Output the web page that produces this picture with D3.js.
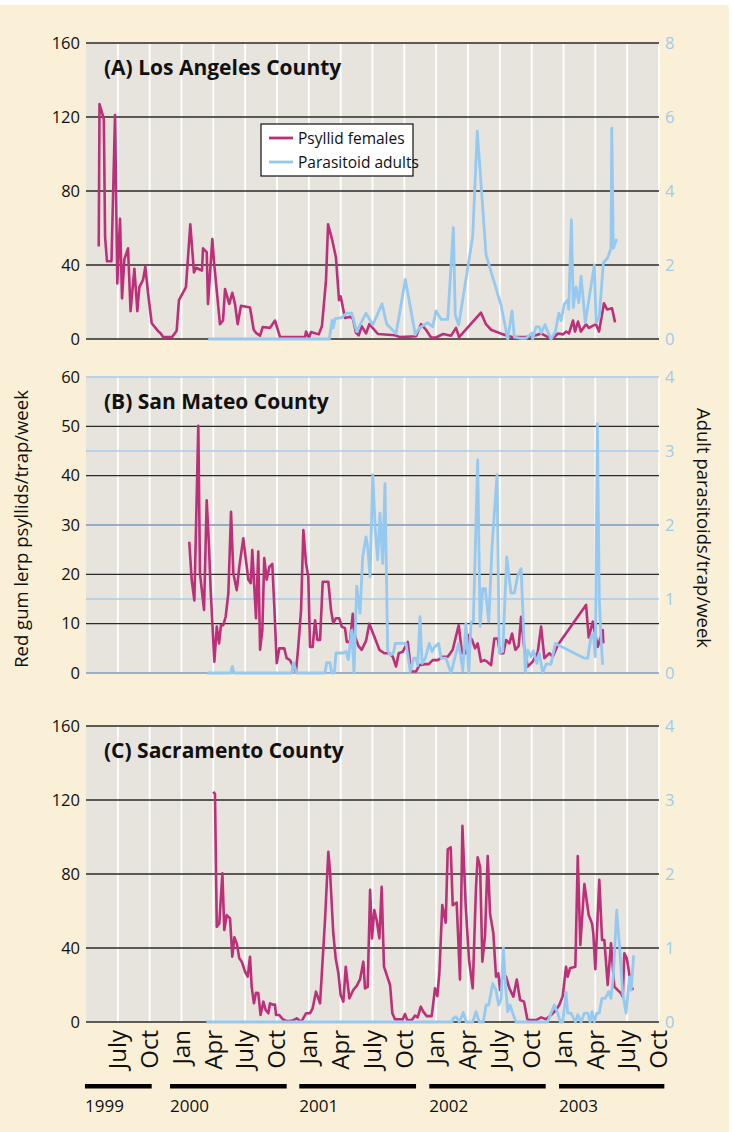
<!DOCTYPE html>
<html>
<head>
<meta charset="utf-8">
<title>Red gum lerp psyllid and parasitoid counts</title>
<script src="https://cdn.jsdelivr.net/npm/d3@7"></script>
<style>
    body { margin: 0; background: #ffffff; }
    svg text { font-family: "Open Sans", "Noto Sans", sans-serif; }
</style>
</head>
<body>
<div id="chart"></div>
<script>

// times are decimal years, values are trap counts

const laPsyllids = [
    [1999.35, 50], [1999.356, 127], [1999.39, 119], [1999.40, 55], [1999.415, 42], [1999.45, 42],
    [1999.478, 121], [1999.496, 30], [1999.517, 65], [1999.533, 22], [1999.551, 43], [1999.58, 49],
    [1999.60, 15], [1999.63, 38], [1999.653, 15], [1999.669, 28], [1999.698, 32], [1999.716, 39],
    [1999.737, 25], [1999.766, 8.5], [1999.813, 4.5], [1999.837, 3], [1999.857, 1], [1999.925, 1],
    [1999.962, 4.5], [1999.98, 21], [2000.035, 28], [2000.069, 62], [2000.098, 36], [2000.114, 38.5],
    [2000.161, 37], [2000.169, 49], [2000.198, 47], [2000.208, 19], [2000.242, 54], [2000.255, 42],
    [2000.302, 8], [2000.326, 10], [2000.342, 27], [2000.375, 19], [2000.399, 25], [2000.42, 19],
    [2000.441, 8], [2000.467, 18], [2000.538, 17], [2000.567, 5], [2000.59, 3], [2000.617, 1.8],
    [2000.638, 6.5], [2000.695, 6], [2000.734, 10], [2000.774, 1], [2000.876, 1], [2000.97, 1],
    [2000.978, 4], [2001.001, 0.5], [2001.017, 3.8], [2001.078, 2.5], [2001.103, 7], [2001.135, 32],
    [2001.151, 62], [2001.182, 54], [2001.213, 44], [2001.237, 21], [2001.25, 23], [2001.284, 11.4],
    [2001.323, 12], [2001.347, 11], [2001.37, 3.4], [2001.392, 2], [2001.415, 7], [2001.449, 3],
    [2001.475, 8], [2001.543, 2.7], [2001.677, 2], [2001.716, 1], [2001.842, 1.5], [2001.881, 8],
    [2001.92, 5], [2001.96, 0.8], [2001.999, 0.8], [2002.054, 2.7], [2002.117, 1.8], [2002.156, 6],
    [2002.18, 1], [2002.352, 14.2], [2002.391, 8], [2002.431, 5], [2002.525, 2.5], [2002.603, 1],
    [2002.706, 1], [2002.784, 2], [2002.823, 3], [2002.878, 1], [2002.918, 0.5], [2002.957, 3],
    [2002.996, 2.5], [2003.02, 4], [2003.043, 3], [2003.075, 10], [2003.09, 4], [2003.114, 9.4],
    [2003.137, 4], [2003.177, 8], [2003.2, 6], [2003.255, 8], [2003.279, 4], [2003.318, 19.3],
    [2003.342, 16], [2003.381, 16.6], [2003.405, 9]
];

const laParasitoids = [
    [2000.21, 0], [2001.161, 0], [2001.182, 0.5], [2001.192, 0.3], [2001.206, 0.55], [2001.258, 0.58],
    [2001.298, 0.7], [2001.337, 0.7], [2001.376, 0.2], [2001.449, 0.7], [2001.502, 0.38], [2001.575, 0.95],
    [2001.612, 0.4], [2001.685, 0.15], [2001.758, 1.61], [2001.836, 0.12], [2001.868, 0.3], [2001.934, 0.44],
    [2001.973, 0.33], [2001.999, 0.76], [2002.038, 0.53], [2002.091, 0.53], [2002.135, 3.01], [2002.15, 0.64],
    [2002.177, 0.38], [2002.287, 2.77], [2002.323, 5.62], [2002.392, 2.27], [2002.509, 0.92], [2002.562, 0],
    [2002.596, 0.76], [2002.614, 0.05], [2002.667, 0.02], [2002.706, 0.02], [2002.753, 0.16], [2002.758, 0],
    [2002.784, 0.33], [2002.81, 0.33], [2002.824, 0.16], [2002.855, 0.39], [2002.876, 0.2], [2002.902, 0],
    [2002.936, 0.2], [2002.963, 0.7], [2002.981, 0.5], [2003.007, 0.95], [2003.033, 1.05], [2003.041, 0.8],
    [2003.062, 3.22], [2003.077, 0.85], [2003.098, 1.41], [2003.12, 0.98], [2003.138, 1.7], [2003.171, 0.44],
    [2003.242, 2.0], [2003.256, 0.44], [2003.281, 0.6], [2003.313, 2.05], [2003.347, 2.2], [2003.373, 2.45],
    [2003.379, 5.7], [2003.391, 2.45], [2003.418, 2.7]
];

const smPsyllids = [
    [2000.061, 26.6], [2000.08, 18.9], [2000.101, 14.7], [2000.132, 50.1], [2000.145, 20.2], [2000.177, 12.8],
    [2000.198, 35], [2000.216, 25.6], [2000.229, 16.8], [2000.258, 2.3], [2000.277, 9.4], [2000.295, 6],
    [2000.31, 9.7], [2000.328, 9.7], [2000.347, 11.4], [2000.368, 16.2], [2000.389, 32.7], [2000.407, 20.2],
    [2000.434, 16.8], [2000.454, 21.5], [2000.485, 27.3], [2000.525, 18.9], [2000.544, 18.2], [2000.556, 24.9],
    [2000.585, 11.1], [2000.603, 24.6], [2000.617, 4.7], [2000.635, 8.7], [2000.65, 23.3], [2000.669, 18.9],
    [2000.69, 21.5], [2000.713, 22.1], [2000.729, 13.4], [2000.748, 2], [2000.768, 5], [2000.807, 5],
    [2000.826, 3], [2000.852, 2.6], [2000.878, 1.3], [2000.899, 0.3], [2000.917, 5.3], [2000.939, 12.8],
    [2000.957, 29], [2000.978, 22.2], [2000.996, 19.5], [2001.009, 5.3], [2001.03, 5.3], [2001.049, 10.7],
    [2001.067, 6.7], [2001.088, 6.7], [2001.109, 18.5], [2001.153, 18.5], [2001.174, 12.8], [2001.192, 10.1],
    [2001.213, 11.1], [2001.239, 11.1], [2001.258, 9.4], [2001.284, 9.1], [2001.298, 6.3], [2001.323, 6.3],
    [2001.345, 12], [2001.363, 7.4], [2001.389, 5.5], [2001.415, 4.7], [2001.449, 6.5], [2001.475, 10],
    [2001.514, 7.4], [2001.554, 4.7], [2001.593, 4], [2001.632, 4], [2001.659, 3.3], [2001.685, 1.3],
    [2001.706, 4], [2001.737, 4.3], [2001.777, 6.3], [2001.803, 0.3], [2001.842, 0.3], [2001.868, 1.6],
    [2001.915, 1.8], [2001.942, 1.8], [2001.973, 2.6], [2002.012, 2.6], [2002.052, 3.3], [2002.091, 3.3],
    [2002.13, 4.7], [2002.177, 9.7], [2002.203, 4], [2002.235, 4], [2002.256, 7.7], [2002.282, 6.7],
    [2002.305, 5], [2002.326, 6], [2002.352, 2.3], [2002.378, 2.6], [2002.4, 2.3], [2002.431, 1.6],
    [2002.457, 7], [2002.483, 7], [2002.502, 4], [2002.528, 4], [2002.549, 6.7], [2002.575, 6],
    [2002.596, 8], [2002.622, 4.7], [2002.648, 5.5], [2002.667, 11.4], [2002.692, 5], [2002.719, 1.3],
    [2002.758, 2.3], [2002.798, 4.3], [2002.824, 9.4], [2002.85, 3], [2002.889, 4], [2002.916, 3.3],
    [2002.955, 5.7], [2003.177, 13.8], [2003.198, 7.2], [2003.23, 10.4], [2003.269, 5.3], [2003.308, 8.7],
    [2003.313, 6]
];

const smParasitoids = [
    [2000.203, 0], [2000.386, 0], [2000.399, 0.09], [2000.412, 0], [2000.866, 0], [2000.878, 0.14],
    [2000.905, 0], [2001.127, 0], [2001.14, 0.14], [2001.166, 0.14], [2001.18, 0], [2001.2, 0],
    [2001.213, 0.27], [2001.271, 0.27], [2001.292, 0.29], [2001.31, 0.18], [2001.337, 0.58], [2001.355, 0],
    [2001.376, 1.17], [2001.402, 0.81], [2001.423, 1.57], [2001.449, 1.84], [2001.462, 1.71], [2001.481, 1.3],
    [2001.502, 2.68], [2001.522, 1.93], [2001.541, 1.53], [2001.559, 2.16], [2001.58, 1.48], [2001.598, 2.56],
    [2001.619, 0.31], [2001.638, 0.24], [2001.664, 0.27], [2001.679, 0.4], [2001.763, 0.4], [2001.797, 0.02],
    [2001.824, 0.2], [2001.842, 0.2], [2001.855, 0.1], [2001.873, 0.76], [2001.889, 0.13], [2001.915, 0.2],
    [2001.946, 0.4], [2001.967, 0.29], [2001.986, 0.35], [2002.02, 0.4], [2002.038, 0.2], [2002.077, 0.2],
    [2002.117, 0], [2002.143, 0.18], [2002.177, 0.4], [2002.209, 0.03], [2002.234, 0.67], [2002.256, 0],
    [2002.274, 0.69], [2002.292, 0.69], [2002.326, 2.88], [2002.345, 0.63], [2002.366, 1.14], [2002.386, 1.14],
    [2002.413, 0.69], [2002.439, 1.71], [2002.478, 2.68], [2002.496, 0.27], [2002.523, 0.29], [2002.554, 1.57],
    [2002.588, 1.08], [2002.614, 1.08], [2002.641, 1.32], [2002.667, 1.41], [2002.7, 0.02], [2002.719, 0.31],
    [2002.745, 0.22], [2002.763, 0.3], [2002.79, 0.13], [2002.81, 0.27], [2002.837, 0], [2002.863, 0.12],
    [2002.902, 0.12], [2002.936, 0.4], [2003.164, 0.2], [2003.19, 0.2], [2003.216, 0.49], [2003.234, 0.53],
    [2003.25, 0.22], [2003.266, 3.37], [2003.281, 1.0], [2003.295, 0.45], [2003.308, 0.11]
];

const sacPsyllids = [
    [2000.25, 124.5], [2000.263, 123.2], [2000.277, 51.5], [2000.297, 53.3], [2000.321, 80.4], [2000.336, 49.7],
    [2000.355, 57.8], [2000.381, 56], [2000.399, 35.3], [2000.415, 45.8], [2000.434, 42.5], [2000.454, 34.4],
    [2000.473, 32.6], [2000.499, 27.2], [2000.52, 24.5], [2000.538, 35.3], [2000.551, 19.1], [2000.569, 10.1],
    [2000.585, 15.8], [2000.603, 15.6], [2000.621, 3.8], [2000.643, 11], [2000.661, 6.5], [2000.682, 4.7],
    [2000.695, 10.1], [2000.716, 9.4], [2000.734, 9.4], [2000.742, 3.8], [2000.768, 3.8], [2000.795, 1.5],
    [2000.826, 0.5], [2000.852, 0.5], [2000.878, 1], [2000.905, 2], [2000.931, 0.5], [2000.944, 0.5],
    [2000.978, 4.7], [2001.009, 4.7], [2001.03, 7.4], [2001.056, 16.4], [2001.088, 10.1], [2001.127, 55],
    [2001.153, 92], [2001.166, 82], [2001.192, 48], [2001.211, 34.4], [2001.232, 26.3], [2001.25, 14.6],
    [2001.271, 11], [2001.29, 29.9], [2001.318, 12.8], [2001.349, 17.3], [2001.376, 19.5], [2001.402, 23],
    [2001.428, 32.6], [2001.441, 18.2], [2001.462, 19], [2001.481, 71.4], [2001.496, 45.2], [2001.514, 60.5],
    [2001.533, 55], [2001.554, 45.2], [2001.572, 73.1], [2001.59, 29.9], [2001.616, 24.5], [2001.638, 20],
    [2001.656, 4.7], [2001.677, 1.4], [2001.716, 1.4], [2001.737, 1.4], [2001.755, 4.3], [2001.773, 1],
    [2001.808, 1], [2001.834, 3.5], [2001.855, 2.5], [2001.879, 8.3], [2001.899, 5.6], [2001.926, 3.2],
    [2001.965, 3.2], [2001.991, 18.2], [2002.009, 14], [2002.025, 26.3], [2002.048, 63.2], [2002.075, 53.7],
    [2002.091, 93.3], [2002.114, 94.4], [2002.13, 63.2], [2002.161, 64.5], [2002.187, 23], [2002.206, 106],
    [2002.232, 62.9], [2002.258, 33.5], [2002.287, 18.2], [2002.313, 73.1], [2002.326, 89], [2002.345, 83.9],
    [2002.363, 32.6], [2002.384, 47], [2002.405, 89.7], [2002.423, 58.7], [2002.449, 48], [2002.47, 24.5],
    [2002.488, 26.3], [2002.502, 17.3], [2002.523, 26.3], [2002.549, 24.5], [2002.575, 18.2], [2002.606, 13.7],
    [2002.633, 23], [2002.659, 11.9], [2002.69, 11], [2002.716, 1.5], [2002.737, 1], [2002.784, 1],
    [2002.824, 2.5], [2002.863, 1.5], [2002.902, 3.8], [2002.941, 6.5], [2002.967, 9.2], [2002.994, 14],
    [2003.02, 29.9], [2003.033, 24.5], [2003.051, 29], [2003.093, 29.9], [2003.112, 89.7], [2003.132, 41.6],
    [2003.164, 74.6], [2003.198, 57.8], [2003.224, 53.3], [2003.234, 48], [2003.25, 28.5], [2003.281, 76.8],
    [2003.303, 44.3], [2003.321, 44.3], [2003.347, 20], [2003.373, 42.5], [2003.399, 19.1], [2003.452, 15.5],
    [2003.465, 13.7], [2003.478, 37.1], [2003.497, 34.4], [2003.512, 28.1], [2003.53, 18.2], [2003.551, 17.7]
];

const sacParasitoids = [
    [2000.196, 0], [2002.125, 0], [2002.135, 0.05], [2002.156, 0.07], [2002.182, 0], [2002.213, 0.13],
    [2002.234, 0], [2002.287, 0], [2002.313, 0.14], [2002.339, 0], [2002.37, 0], [2002.392, 0.23],
    [2002.413, 0.23], [2002.444, 0.52], [2002.47, 0.43], [2002.491, 0.23], [2002.509, 0.31], [2002.528, 1.0],
    [2002.543, 0.52], [2002.562, 0.14], [2002.58, 0.23], [2002.601, 0.12], [2002.627, 0], [2002.876, 0],
    [2002.902, 0.12], [2002.928, 0.23], [2002.955, 0.12], [2002.975, 0], [2002.994, 0], [2003.02, 0.4],
    [2003.033, 0.12], [2003.059, 0.12], [2003.093, 0], [2003.112, 0.1], [2003.138, 0], [2003.164, 0.12],
    [2003.19, 0.12], [2003.208, 0], [2003.224, 0.14], [2003.242, 0], [2003.261, 0.12], [2003.281, 0.12],
    [2003.302, 0.32], [2003.328, 0.32], [2003.355, 0.41], [2003.373, 0.32], [2003.391, 0.61], [2003.418, 1.51],
    [2003.444, 0.93], [2003.465, 0.39], [2003.491, 0.12], [2003.518, 0.61], [2003.531, 0.43], [2003.551, 0.9]
];

// x axis: quarter starts and their labels
const monthTicks = [1999.5, 1999.75, 2000, 2000.25, 2000.5, 2000.75, 2001, 2001.25, 2001.5, 2001.75,
    2002, 2002.25, 2002.5, 2002.75, 2003, 2003.25, 2003.5, 2003.75];
const monthLabels = ["July", "Oct", "Jan", "Apr", "July", "Oct", "Jan", "Apr", "July", "Oct",
    "Jan", "Apr", "July", "Oct", "Jan", "Apr", "July", "Oct"];

const yearLabels = ["1999", "2000", "2001", "2002", "2003"];
const yearStarts = [1999.242, 1999.91, 2000.925, 2001.946, 2002.965];
const yearEnds = [1999.766, 2000.826, 2001.842, 2002.86, 2003.792];

const laLeftTicks = [0, 40, 80, 120, 160];
const laRightTicks = [0, 2, 4, 6, 8];
const smLeftTicks = [0, 10, 20, 30, 40, 50, 60];
const smRightTicks = [0, 1, 2, 3, 4];
const sacLeftTicks = [0, 40, 80, 120, 160];
const sacRightTicks = [0, 1, 2, 3, 4];

const legendLabels = ["Psyllid females", "Parasitoid adults"];


const colors = {
    psyllid: "#bb3079",
    parasitoid: "#95c9ef",
    rightText: "#9ecbee",
    plotBg: "#e7e4de",
    grid: "#2a2a2a",
    page: "#faf0d7"
};

const margin = {left: 86};
const plotWidth = 573;
const panelHeight = 296;
const timeDomain = [1999.25, 2003.75];


/* * * * * * * * * * * * * *
*     class CountyPanel     *
* * * * * * * * * * * * * */

class CountyPanel {
    constructor(svg, opts) {
        this.svg = svg;
        this.opts = opts;

        this.initVis();
    }

    initVis() {
        let vis = this;
        let o = vis.opts;

        vis.g = vis.svg.append("g")
            .attr("transform", `translate(${margin.left}, ${o.top})`);

        // Scales
        vis.x = d3.scaleLinear()
            .domain(timeDomain)
            .range([0, plotWidth]);

        vis.yLeft = d3.scaleLinear()
            .domain([0, d3.max(o.leftTicks)])
            .range([panelHeight, 0]);

        vis.yRight = d3.scaleLinear()
            .domain([0, d3.max(o.rightTicks)])
            .range([panelHeight, 0]);

        // grey plot area
        vis.g.append("rect")
            .attr("width", plotWidth)
            .attr("height", panelHeight)
            .attr("fill", colors.plotBg);

        // white quarter lines
        vis.g.selectAll(".quarter")
            .data(monthTicks)
            .join("line")
            .attr("class", "quarter")
            .attr("x1", d => vis.x(d))
            .attr("x2", d => vis.x(d))
            .attr("y1", 0)
            .attr("y2", panelHeight)
            .attr("stroke", "#ffffff")
            .attr("stroke-width", 1.8);

        // horizontal grid, left scale in black
        let leftGrid = o.blueRightGrid ? o.leftTicks.filter(d => d > 0 && d < d3.max(o.leftTicks)) : o.leftTicks;
        vis.g.selectAll(".grid-left")
            .data(leftGrid)
            .join("line")
            .attr("class", "grid-left")
            .attr("x1", 0)
            .attr("x2", plotWidth)
            .attr("y1", d => vis.yLeft(d))
            .attr("y2", d => vis.yLeft(d))
            .attr("stroke", colors.grid)
            .attr("stroke-width", 1.3);

        // San Mateo has its own right-scale grid in light blue
        if (o.blueRightGrid) {
            vis.g.selectAll(".grid-right")
                .data(o.rightTicks)
                .join("line")
                .attr("class", "grid-right")
                .attr("x1", 0)
                .attr("x2", plotWidth)
                .attr("y1", d => vis.yRight(d))
                .attr("y2", d => vis.yRight(d))
                .attr("stroke", d => d === 0 ? "#7d9fbd" : "#a6cdec")
                .attr("stroke-width", d => d === 0 ? 1.6 : 1.3);
        }

        // axes (labels only)
        vis.yAxisLeft = d3.axisLeft(vis.yLeft)
            .tickValues(o.leftTicks)
            .tickFormat(d3.format("d"))
            .tickSize(0)
            .tickPadding(6);

        vis.yAxisRight = d3.axisRight(vis.yRight)
            .tickValues(o.rightTicks)
            .tickFormat(d3.format("d"))
            .tickSize(0)
            .tickPadding(6);

        vis.g.append("g")
            .attr("class", "y-axis-left")
            .call(vis.yAxisLeft)
            .call(g => g.select(".domain").remove())
            .selectAll("text")
            .attr("font-size", 16.5)
            .attr("font-family", "'Open Sans', sans-serif")
            .attr("fill", "#111");

        vis.g.append("g")
            .attr("class", "y-axis-right")
            .attr("transform", `translate(${plotWidth}, 0)`)
            .call(vis.yAxisRight)
            .call(g => g.select(".domain").remove())
            .selectAll("text")
            .attr("font-size", 16.5)
            .attr("font-family", "'Open Sans', sans-serif")
            .attr("fill", colors.rightText);

        // series lines
        vis.lineLeft = d3.line()
            .x(d => vis.x(d[0]))
            .y(d => vis.yLeft(d[1]));

        vis.lineRight = d3.line()
            .x(d => vis.x(d[0]))
            .y(d => vis.yRight(d[1]));

        vis.g.append("path")
            .datum(o.psyllids)
            .attr("class", "line psyllid")
            .attr("d", vis.lineLeft)
            .attr("fill", "none")
            .attr("stroke", colors.psyllid)
            .attr("stroke-width", 2.6)
            .attr("stroke-linejoin", "round");

        vis.g.append("path")
            .datum(o.parasitoids)
            .attr("class", "line parasitoid")
            .attr("d", vis.lineRight)
            .attr("fill", "none")
            .attr("stroke", colors.parasitoid)
            .attr("stroke-width", 2.8)
            .attr("stroke-linejoin", "round");

        // panel title
        vis.g.append("text")
            .text(o.title)
            .attr("x", 18)
            .attr("y", 32)
            .attr("font-size", 21)
            .attr("font-weight", "bold")
            .attr("fill", "#111");
    }
}


let svg = d3.select("#chart").append("svg")
    .attr("width", 732)
    .attr("height", 1132);

// cream page
svg.append("rect")
    .attr("x", 0)
    .attr("y", 5)
    .attr("width", 729)
    .attr("height", 1127)
    .attr("fill", colors.page);

let panelA = new CountyPanel(svg, {
    top: 43, title: "(A) Los Angeles County",
    leftTicks: laLeftTicks, rightTicks: laRightTicks,
    psyllids: laPsyllids, parasitoids: laParasitoids
});

let panelB = new CountyPanel(svg, {
    top: 377, title: "(B) San Mateo County",
    leftTicks: smLeftTicks, rightTicks: smRightTicks, blueRightGrid: true,
    psyllids: smPsyllids, parasitoids: smParasitoids
});

let panelC = new CountyPanel(svg, {
    top: 726, title: "(C) Sacramento County",
    leftTicks: sacLeftTicks, rightTicks: sacRightTicks,
    psyllids: sacPsyllids, parasitoids: sacParasitoids
});

// legend inside panel A
let legend = svg.append("g")
    .attr("transform", "translate(261, 124)");

legend.append("rect")
    .attr("width", 152)
    .attr("height", 52)
    .attr("fill", "#ffffff")
    .attr("stroke", "#111")
    .attr("stroke-width", 1.2);

legend.selectAll(".key")
    .data(legendLabels)
    .join("line")
    .attr("class", "key")
    .attr("x1", 8)
    .attr("x2", 32)
    .attr("y1", (d, i) => 14 + i * 24)
    .attr("y2", (d, i) => 14 + i * 24)
    .attr("stroke", (d, i) => i === 0 ? colors.psyllid : colors.parasitoid)
    .attr("stroke-width", 2.8);

legend.selectAll(".key-label")
    .data(legendLabels)
    .join("text")
    .attr("class", "key-label")
    .text(d => d)
    .attr("x", 37)
    .attr("y", (d, i) => 20 + i * 24)
    .attr("font-size", 15.5)
    .attr("font-family", "'Liberation Sans Narrow', 'Open Sans', sans-serif")
    .attr("fill", "#111");

// month labels under the last panel
let xBottom = d3.scaleLinear()
    .domain(timeDomain)
    .range([margin.left, margin.left + plotWidth]);

let xAxis = d3.axisBottom(xBottom)
    .tickValues(monthTicks)
    .tickFormat((d, i) => monthLabels[i])
    .tickSize(0);

svg.append("g")
    .attr("class", "x-axis")
    .attr("transform", `translate(0, ${726 + panelHeight})`)
    .call(xAxis)
    .call(g => g.select(".domain").remove())
    .selectAll("text")
    .attr("transform", "rotate(-90)")
    .attr("text-anchor", "end")
    .attr("x", -8)
    .attr("y", 0)
    .attr("dy", "0.32em")
    .attr("font-size", 24)
    .attr("font-family", "'Open Sans', sans-serif")
    .attr("fill", "#111");

// year bars and labels
svg.selectAll(".year-bar")
    .data(yearLabels)
    .join("rect")
    .attr("class", "year-bar")
    .attr("x", (d, i) => xBottom(yearStarts[i]))
    .attr("width", (d, i) => xBottom(yearEnds[i]) - xBottom(yearStarts[i]))
    .attr("y", 1084)
    .attr("height", 4.5)
    .attr("fill", "#000");

svg.selectAll(".year-label")
    .data(yearLabels)
    .join("text")
    .attr("class", "year-label")
    .text(d => d)
    .attr("x", (d, i) => xBottom(yearStarts[i]))
    .attr("y", 1112)
    .attr("font-size", 17)
    .attr("fill", "#111");

// axis titles
svg.append("text")
    .text("Red gum lerp psyllids/trap/week")
    .attr("transform", "translate(28, 529) rotate(-90)")
    .attr("text-anchor", "middle")
    .attr("font-size", 18.5)
    .attr("fill", "#111");

svg.append("text")
    .text("Adult parasitoids/trap/week")
    .attr("transform", "translate(697, 528) rotate(90)")
    .attr("text-anchor", "middle")
    .attr("font-size", 18.5)
    .attr("fill", "#111");

</script>
</body>
</html>
